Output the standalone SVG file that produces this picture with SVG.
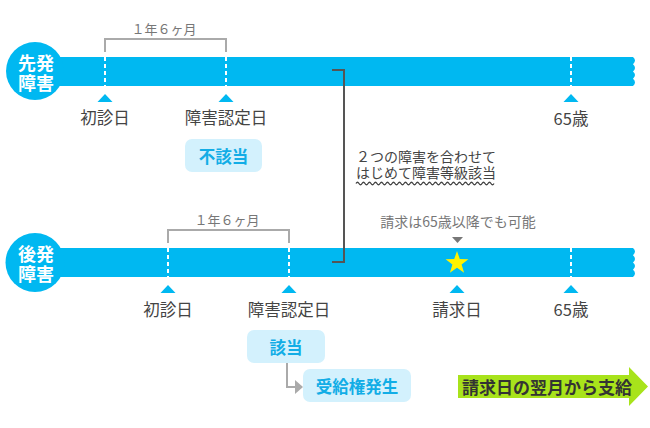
<svg xmlns="http://www.w3.org/2000/svg" width="650" height="428" viewBox="0 0 650 428">
<style>
text{font-family:"Noto Sans CJK JP","Noto Sans",sans-serif;text-anchor:middle;dominant-baseline:central}
.bar{fill:#00b8f1}
.circ{fill:#00b8f1}
.ctext{fill:#fff;font-size:18px;font-weight:bold}
.dash{stroke:#fff;stroke-width:2;stroke-dasharray:4 3;fill:none}
.tri{fill:#00b8f1}
.lbl{fill:#444;font-size:16.5px}
.span{fill:none;stroke:#aaa;stroke-width:2}
.spantext{fill:#777;font-size:13px}
.box{fill:#d3f1fd}
.boxtext{fill:#12ade6;font-size:16.5px;font-weight:bold}
.note{fill:#444;font-size:14px}
.gnote{fill:#777;font-size:14px}
</style>
<defs>
<path id="triUp" d="M0,0 L7.5,8 L-7.5,8 Z"/>
</defs>

<g id="line-senpatsu">
<path class="bar" d="M35,57 H633 Q637,60.6 633,64.25 Q637,67.9 633,71.5 Q637,75.1 633,78.75 Q637,82.4 633,86 H35 Z"/>
<circle class="circ" cx="35" cy="71" r="29"/>
<text class="ctext"><tspan x="36" y="62">先発</tspan><tspan x="36" y="82">障害</tspan></text>
</g>

<g id="line-kohatsu">
<path class="bar" d="M35,248 H633 Q637,251.6 633,255.25 Q637,258.9 633,262.5 Q637,266.1 633,269.75 Q637,273.4 633,277 H35 Z"/>
<circle class="circ" cx="35" cy="262.5" r="29.5"/>
<text class="ctext"><tspan x="36" y="253">後発</tspan><tspan x="36" y="273">障害</tspan></text>
</g>

<g id="connectors">
<path class="span" d="M105,52 V39 H226 V52"/>
<path class="span" d="M168,243 V230 H289 V243"/>
<path class="dash" d="M105,57 V86 M226,57 V86 M571,57 V86"/>
<path class="dash" d="M168,248 V277 M289,248 V277 M571,248 V277"/>
<path d="M332,70 H344 V262 H332" fill="none" stroke="#555" stroke-width="2"/>
<path d="M287,363 V387 H297" fill="none" stroke="#aaa" stroke-width="2"/>
<polygon points="295,380 303,387 295,394" fill="#aaa"/>
<polygon points="452,237 463,237 457.5,243" fill="#777"/>
</g>

<g id="span-top"><text class="spantext" x="164" y="28">１年６ヶ月</text></g>
<g id="span-bottom"><text class="spantext" x="227" y="219">１年６ヶ月</text></g>

<g id="top-shoshinbi">
<use href="#triUp" x="105" y="94" class="tri"/>
<text class="lbl" x="105" y="117">初診日</text>
</g>
<g id="top-nintei">
<use href="#triUp" x="226" y="94" class="tri"/>
<text class="lbl" x="226" y="117">障害認定日</text>
</g>
<g id="top-65">
<use href="#triUp" x="571" y="94" class="tri"/>
<text class="lbl" x="571" y="118">65歳</text>
</g>
<g id="futoto">
<rect class="box" x="185" y="139" width="77" height="33" rx="7"/>
<text class="boxtext" x="223.5" y="155.5">不該当</text>
</g>

<g id="note-combined">
<text class="note"><tspan x="426" y="156">２つの障害を合わせて</tspan><tspan x="426" y="172">はじめて障害等級該当</tspan></text>
<path d="M356,183.5 q1.5,-2.5 3,0 t3,0 t3,0 t3,0 t3,0 t3,0 t3,0 t3,0 t3,0 t3,0 t3,0 t3,0 t3,0 t3,0 t3,0 t3,0 t3,0 t3,0 t3,0 t3,0 t3,0 t3,0 t3,0 t3,0 t3,0 t3,0 t3,0 t3,0 t3,0 t3,0 t3,0 t3,0 t3,0 t3,0 t3,0 t3,0 t3,0 t3,0 t3,0 t3,0 t3,0 t3,0 t3,0 t3,0 t3,0 t3,0" fill="none" stroke="#444" stroke-width="1.3"/>
</g>

<g id="note-seikyu">
<text class="gnote" x="458" y="221">請求は65歳以降でも可能</text>
</g>

<g id="bottom-shoshinbi">
<use href="#triUp" x="168" y="285" class="tri"/>
<text class="lbl" x="168" y="309">初診日</text>
</g>
<g id="bottom-nintei">
<use href="#triUp" x="289" y="285" class="tri"/>
<text class="lbl" x="289" y="309">障害認定日</text>
</g>
<g id="bottom-seikyubi">
<polygon points="457,251 459.8,259.1 468.4,259.3 461.6,264.5 464.1,272.7 457,267.8 449.9,272.7 452.4,264.5 445.6,259.3 454.2,259.1" fill="#fff200"/>
<use href="#triUp" x="457" y="285" class="tri"/>
<text class="lbl" x="457" y="309">請求日</text>
</g>
<g id="bottom-65">
<use href="#triUp" x="571" y="285" class="tri"/>
<text class="lbl" x="571" y="309">65歳</text>
</g>

<g id="gaito">
<rect class="box" x="247" y="330" width="78" height="33" rx="7"/>
<text class="boxtext" x="286" y="346.5">該当</text>
</g>
<g id="jukyuken">
<rect class="box" x="303" y="369" width="108" height="33" rx="7"/>
<text class="boxtext" x="357" y="385.5">受給権発生</text>
</g>

<g id="shikyu">
<polygon points="458,375 629,375 629,367 648,386.5 629,406 629,398 458,398" fill="#a8e31b"/>
<text x="547" y="386.5" fill="#333" font-size="17" font-weight="bold">請求日の翌月から支給</text>
</g>
</svg>
